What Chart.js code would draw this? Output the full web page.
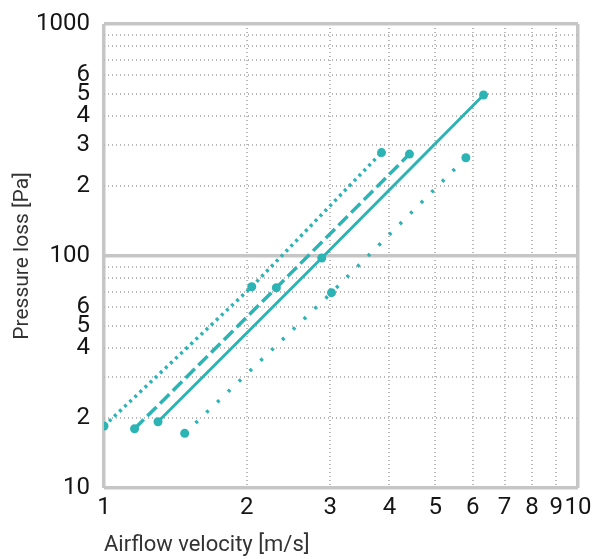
<!DOCTYPE html>
<html>
<head>
<meta charset="utf-8">
<script src="https://cdn.jsdelivr.net/npm/chart.js@4/dist/chart.umd.min.js"></script>
<style>
  html, body { margin: 0; padding: 0; background: #ffffff; }
  #wrap { width: 598px; height: 559px; position: relative; }
</style>
</head>
<body>
<div id="wrap"><canvas id="c" width="598" height="559"></canvas></div>
<script>
// ---- data ----
const xTickValues = [1, 2, 3, 4, 5, 6, 7, 8, 9, 10];
const xTickLabels = ['1', '2', '3', '4', '5', '6', '7', '8', '9', '10'];
const yTickValues = [10, 20, 30, 40, 50, 60, 70, 80, 90, 100, 200, 300, 400, 500, 600, 700, 800, 900, 1000];
const yTickLabels = ['10', '2', '', '4', '5', '6', '', '', '', '100', '2', '3', '4', '5', '6', '', '', '', '1000'];

const seriesDottedX = [1.0, 2.05, 3.85];
const seriesDottedY = [18.5, 73.7, 279];
const seriesDashedX = [1.16, 2.31, 4.41];
const seriesDashedY = [18.0, 73.0, 275];
const seriesSolidX = [1.30, 2.88, 6.32];
const seriesSolidY = [19.3, 98.0, 494];
const seriesSparseX = [1.48, 3.02, 5.80];
const seriesSparseY = [17.2, 69.5, 265];

const xTitle = 'Airflow velocity [m/s]';
const yTitle = 'Pressure loss [Pa]';

// ---- styling ----
const TEAL = '#2cb3b4';
const GRID_MAJOR = '#c6c6c6';
const GRID_MINOR = '#b9b9b9';

function pts(xs, ys) { return xs.map((x, i) => ({ x: x, y: ys[i] })); }

function mkDataset(xs, ys, dash, width) {
  return {
    data: pts(xs, ys),
    borderColor: TEAL,
    backgroundColor: TEAL,
    borderWidth: width,
    borderDash: dash,
    borderCapStyle: 'butt',
    pointRadius: 4.5,
    pointHoverRadius: 4.5,
    pointBorderWidth: 0,
    pointBackgroundColor: TEAL,
    tension: 0,
    fill: false
  };
}

const isMajorY = v => v === 10 || v === 100 || v === 1000;
const isMajorX = v => v === 1 || v === 10;

new Chart(document.getElementById('c'), {
  type: 'line',
  data: {
    datasets: [
      mkDataset(seriesDottedX, seriesDottedY, [3, 4], 3.5),
      mkDataset(seriesDashedX, seriesDashedY, [13, 5], 3.5),
      mkDataset(seriesSolidX, seriesSolidY, [], 3),
      mkDataset(seriesSparseX, seriesSparseY, [3, 12], 3.5)
    ]
  },
  options: {
    responsive: false,
    animation: false,
    events: [],
    layout: { padding: { top: 24, right: 20, left: 0, bottom: 0 } },
    plugins: { legend: { display: false }, tooltip: { enabled: false } },
    scales: {
      x: {
        type: 'logarithmic',
        min: 1,
        max: 10,
        afterBuildTicks: s => { s.ticks = xTickValues.map(v => ({ value: v })); },
        afterFit: s => { s.height = 71; s.paddingLeft = 0; s.paddingRight = 0; },
        ticks: {
          autoSkip: false,
          maxRotation: 0,
          padding: 6,
          color: '#151515',
          font: { family: 'Roboto', size: 24 },
          callback: function (value, index) { return xTickLabels[index]; }
        },
        grid: {
          drawTicks: false,
          color: ctx => (ctx.tick && isMajorX(ctx.tick.value)) ? GRID_MAJOR : GRID_MINOR,
          lineWidth: ctx => (ctx.tick && isMajorX(ctx.tick.value)) ? 3.5 : 2
        },
        border: {
          display: false,
          dash: ctx => (ctx.tick && !isMajorX(ctx.tick.value)) ? [1, 3] : []
        },
        title: {
          display: true,
          text: xTitle,
          align: 'start',
          color: '#333333',
          font: { family: 'Roboto', size: 22 },
          padding: { top: 0, bottom: 0 }
        }
      },
      y: {
        type: 'logarithmic',
        min: 10,
        max: 1000,
        afterBuildTicks: s => { s.ticks = yTickValues.map(v => ({ value: v })); },
        afterFit: s => { s.width = 104; s.paddingTop = 0; s.paddingBottom = 0; },
        ticks: {
          autoSkip: false,
          padding: 14,
          color: '#151515',
          font: { family: 'Roboto', size: 24 },
          callback: function (value, index) { return yTickLabels[index]; }
        },
        grid: {
          drawTicks: false,
          color: ctx => (ctx.tick && isMajorY(ctx.tick.value)) ? GRID_MAJOR : GRID_MINOR,
          lineWidth: ctx => (ctx.tick && isMajorY(ctx.tick.value)) ? 3.5 : 2
        },
        border: {
          display: false,
          dash: ctx => (ctx.tick && !isMajorY(ctx.tick.value)) ? [1, 3] : []
        },
        title: {
          display: true,
          text: yTitle,
          color: '#333333',
          font: { family: 'Roboto', size: 21 },
          padding: { top: 10, bottom: 0 }
        }
      }
    }
  }
});
</script>
</body>
</html>
